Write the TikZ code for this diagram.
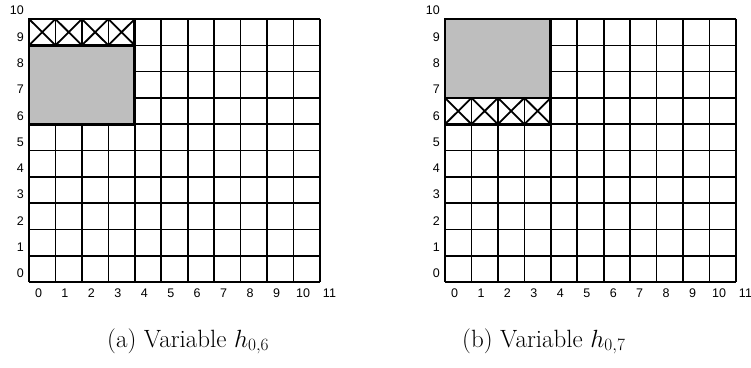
\documentclass[tikz,border=0pt]{standalone}
\usepackage{fontspec}
\newfontfamily\labelfont{Liberation Sans}
\begin{document}
\begin{tikzpicture}[x=1pt,y=1pt,
  gridline/.style={line width=1.6pt, black},
  thickline/.style={line width=2.8pt, black},
  hatchline/.style={line width=1.8pt, black},
  greyfill/.style={fill={rgb,255:red,190;green,190;blue,190}},
  axlabel/.style={font=\labelfont\fontsize{12.5}{14}\selectfont, inner sep=0pt},
  captext/.style={font=\fontsize{25}{29}\selectfont, inner sep=0pt}]
\useasboundingbox (0,0) rectangle (751,-367);
% ---------- left grid ----------
\begin{scope}[shift={(29,-282)}, x=26.45pt, y=26.3pt]
  \foreach \i in {0,...,11} \draw[gridline] (\i,0) -- (\i,10);
  \foreach \j in {0,...,10} \draw[gridline] (0,\j) -- (11,\j);
  \fill[greyfill] (0,6) rectangle (4,9);
  \foreach \k in {0,...,3} {
    \draw[hatchline] (\k,9) -- (\k+1,10) (\k,10) -- (\k+1,9);
  }
  \draw[thickline] (0,6) rectangle (4,9);
  \draw[thickline] (0,9) rectangle (4,10);
  \foreach \i in {0,...,11}
    \node[axlabel] (la-x\i) at (\i+0.36,-0.42) {\i};
  \foreach \j in {0,...,10}
    \node[axlabel, anchor=east] (la-y\j) at (-0.19,\j+0.32) {\j};
\end{scope}
% ---------- right grid ----------
\begin{scope}[shift={(445,-282)}, x=26.45pt, y=26.3pt]
  \foreach \i in {0,...,11} \draw[gridline] (\i,0) -- (\i,10);
  \foreach \j in {0,...,10} \draw[gridline] (0,\j) -- (11,\j);
  \fill[greyfill] (0,7) rectangle (4,10);
  \foreach \k in {0,...,3} {
    \draw[hatchline] (\k,6) -- (\k+1,7) (\k,7) -- (\k+1,6);
  }
  \draw[thickline] (0,7) rectangle (4,10);
  \draw[thickline] (0,6) rectangle (4,7);
  \foreach \i in {0,...,11}
    \node[axlabel] (lb-x\i) at (\i+0.36,-0.42) {\i};
  \foreach \j in {0,...,10}
    \node[axlabel, anchor=east] (lb-y\j) at (-0.19,\j+0.32) {\j};
\end{scope}
% ---------- captions ----------
\node[captext, anchor=base west] (capa) at (107,-347) {(a) Variable $h_{0,6}$};
\node[captext, anchor=base west] (capb) at (462,-347) {(b) Variable $h_{0,7}$};
\end{tikzpicture}
\end{document}
